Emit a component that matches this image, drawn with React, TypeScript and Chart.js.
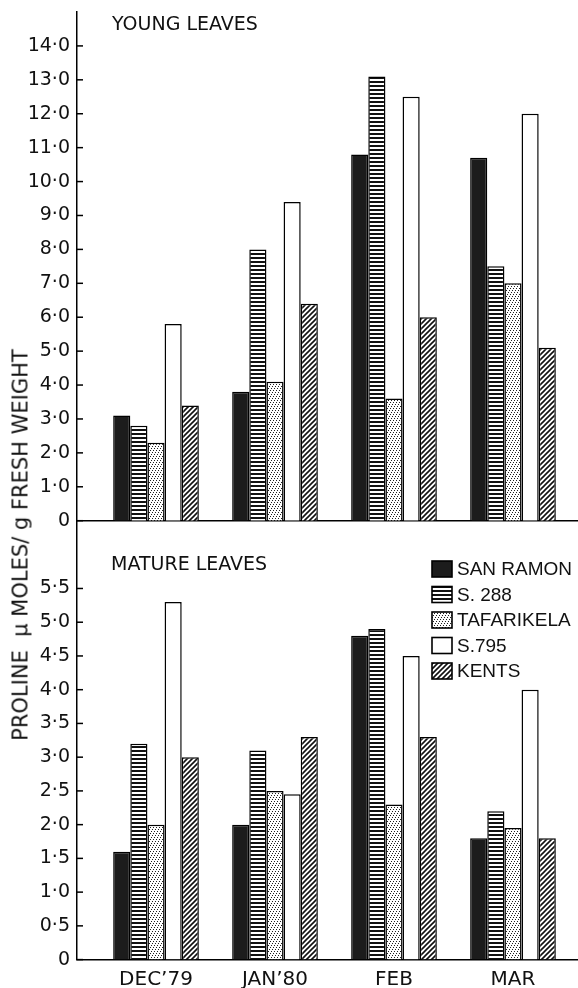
import React, { useEffect, useRef } from 'react';
import { Chart, registerables } from 'chart.js';

Chart.register(...registerables);

// ---------- data ----------
const categories = ['DEC’79', 'JAN’80', 'FEB', 'MAR'];
const seriesNames = ['SAN RAMON', 'S. 288', 'TAFARIKELA', 'S.795', 'KENTS'];

const youngSanRamon = [3.1, 3.8, 10.8, 10.7];
const youngS288 = [2.8, 8.0, 13.1, 7.5];
const youngTafarikela = [2.3, 4.1, 3.6, 7.0];
const youngS795 = [5.8, 9.4, 12.5, 12.0];
const youngKents = [3.4, 6.4, 6.0, 5.1];

const matureSanRamon = [1.6, 2.0, 4.8, 1.8];
const matureS288 = [3.2, 3.1, 4.9, 2.2];
const matureTafarikela = [2.0, 2.5, 2.3, 1.95];
const matureS795 = [5.3, 2.45, 4.5, 4.0];
const matureKents = [3.0, 3.3, 3.3, 1.8];

const youngTicks = [0, 1, 2, 3, 4, 5, 6, 7, 8, 9, 10, 11, 12, 13, 14];
const matureTicks = [0, 0.5, 1, 1.5, 2, 2.5, 3, 3.5, 4, 4.5, 5, 5.5];

const youngTitle = 'YOUNG LEAVES';
const matureTitle = 'MATURE LEAVES';
const yAxisTitle = 'PROLINE  µ MOLES/ g FRESH WEIGHT';

const FONT = '"DejaVu Sans", sans-serif';

function fmt(v: number): string {
  return v === 0 ? '0' : v.toFixed(1).replace('.', '·');
}

function makeTile(w: number, h: number, draw: (g: CanvasRenderingContext2D) => void): CanvasPattern | string {
  const c = document.createElement('canvas');
  c.width = w;
  c.height = h;
  const g = c.getContext('2d');
  if (!g) return '#fff';
  g.fillStyle = '#fff';
  g.fillRect(0, 0, w, h);
  draw(g);
  const p = g.createPattern(c, 'repeat');
  return p || '#fff';
}

function makeFills(): (CanvasPattern | string)[] {
  const solid = '#1c1c1c';
  const hlines = makeTile(4, 4, (g) => {
    g.fillStyle = '#111';
    g.fillRect(0, 1, 4, 2);
  });
  const dots = makeTile(6, 6, (g) => {
    g.fillStyle = '#222';
    const pts = [[0, 0], [2, 2], [4, 4], [3, 0], [5, 2], [1, 4]];
    pts.forEach(([x, y]) => g.fillRect(x, y, 1, 1));
  });
  const white = '#ffffff';
  const diag = makeTile(5, 5, (g) => {
    g.strokeStyle = '#111';
    g.lineWidth = 1.6;
    g.beginPath();
    g.moveTo(-1, 6); g.lineTo(6, -1);
    g.moveTo(-3.5, 3.5); g.lineTo(3.5, -3.5);
    g.moveTo(1.5, 8.5); g.lineTo(8.5, 1.5);
    g.stroke();
  });
  return [solid, hlines, dots, white, diag];
}

const inwardTicks = {
  id: 'inwardTicks',
  afterDraw(chart: any) {
    const y = chart.scales.y;
    const ctx = chart.ctx;
    const left = chart.chartArea.left;
    ctx.save();
    ctx.strokeStyle = '#000';
    ctx.lineWidth = 1.5;
    y.ticks.forEach((t: any) => {
      const py = y.getPixelForValue(t.value);
      ctx.beginPath();
      ctx.moveTo(left, py);
      ctx.lineTo(left + 6, py);
      ctx.stroke();
    });
    ctx.restore();
  },
};

function panelTitle(text: string, x: number, y: number) {
  return {
    id: 'panelTitle',
    afterDraw(chart: any) {
      const ctx = chart.ctx;
      ctx.save();
      ctx.fillStyle = '#111';
      ctx.font = `19px ${FONT}`;
      ctx.textAlign = 'left';
      ctx.textBaseline = 'middle';
      ctx.fillText(text, x, y);
      ctx.restore();
    },
  };
}

const boxLegend = {
  id: 'boxLegend',
  afterDraw(chart: any) {
    const ctx = chart.ctx;
    ctx.save();
    ctx.font = '19px "Liberation Sans", Arial, sans-serif';
    ctx.textAlign = 'left';
    ctx.textBaseline = 'middle';
    chart.data.datasets.forEach((ds: any, i: number) => {
      const cy = 48 + i * 25.5;
      ctx.fillStyle = ds.backgroundColor;
      ctx.fillRect(432, cy - 8, 20, 16);
      ctx.strokeStyle = '#000';
      ctx.lineWidth = 1.6;
      ctx.strokeRect(432, cy - 8, 20, 16);
      ctx.fillStyle = '#111';
      ctx.fillText(ds.label, 457, cy + 1);
    });
    ctx.restore();
  },
};

function buildDatasets(series: number[][], fills: (CanvasPattern | string)[]) {
  return series.map((vals, i) => ({
    label: seriesNames[i],
    data: vals.map((v, j) => ({ x: j, y: v })),
    backgroundColor: fills[i],
    borderColor: '#000',
    borderWidth: 1.5,
    categoryPercentage: 0.72,
    barPercentage: 1,
  }));
}

function buildOptions(cfg: { max: number; ticks: number[]; padTop: number; xHeight: number; showX: boolean }) {
  return {
    responsive: false,
    maintainAspectRatio: false,
    animation: false,
    devicePixelRatio: 1,
    layout: { padding: { top: cfg.padTop, left: 0, right: 1, bottom: 0 } },
    plugins: { legend: { display: false }, tooltip: { enabled: false } },
    scales: {
      x: {
        type: 'linear',
        offset: false,
        min: -0.664,
        max: 3.538,
        grid: { display: false, drawTicks: false, offset: false },
        border: { display: true, color: '#000', width: 1.5 },
        ticks: {
          display: cfg.showX,
          padding: 8,
          color: '#111',
          font: { family: FONT, size: 20 },
          callback: (v: any) => categories[v] ?? '',
        },
        afterBuildTicks: (s: any) => {
          s.ticks = categories.map((_, i) => ({ value: i }));
        },
        afterFit: (s: any) => {
          s.height = cfg.xHeight;
          s.paddingLeft = 0;
          s.paddingRight = 0;
        },
      },
      y: {
        type: 'linear',
        min: 0,
        max: cfg.max,
        grid: { display: false, drawTicks: false },
        border: { display: true, color: '#000', width: 1.5 },
        ticks: {
          padding: 7,
          color: '#111',
          font: { family: FONT, size: 19 },
          callback: (v: any) => fmt(Number(v)),
        },
        afterBuildTicks: (s: any) => {
          s.ticks = cfg.ticks.map((v) => ({ value: v }));
        },
        afterFit: (s: any) => {
          s.width = 77;
          s.paddingTop = 0;
          s.paddingBottom = 0;
        },
      },
    },
  } as any;
}

export default function App() {
  const topRef = useRef<HTMLCanvasElement>(null);
  const botRef = useRef<HTMLCanvasElement>(null);

  useEffect(() => {
    const fills = makeFills();
    const top = new Chart(topRef.current as HTMLCanvasElement, {
      type: 'bar',
      data: {
        datasets: buildDatasets([youngSanRamon, youngS288, youngTafarikela, youngS795, youngKents], fills),
      },
      options: buildOptions({ max: 15, ticks: youngTicks, padTop: 12, xHeight: 11.3, showX: false }),
      plugins: [inwardTicks, panelTitle(youngTitle, 112, 25)],
    } as any);
    const bot = new Chart(botRef.current as HTMLCanvasElement, {
      type: 'bar',
      data: {
        datasets: buildDatasets([matureSanRamon, matureS288, matureTafarikela, matureS795, matureKents], fills),
      },
      options: buildOptions({ max: 6.5, ticks: matureTicks, padTop: 0, xHeight: 28.4, showX: true }),
      plugins: [inwardTicks, panelTitle(matureTitle, 111, 44), boxLegend],
    } as any);
    return () => {
      top.destroy();
      bot.destroy();
    };
  }, []);

  return (
    <div style={{ position: 'absolute', left: 0, top: 0, width: 578, height: 988, background: '#fff', overflow: 'hidden' }}>
      <canvas ref={topRef} width={578} height={532} style={{ position: 'absolute', left: 0, top: 0, width: 578, height: 532 }} />
      <canvas ref={botRef} width={578} height={467} style={{ position: 'absolute', left: 0, top: 521, width: 578, height: 467 }} />
      <div
        style={{
          position: 'absolute',
          left: 21,
          top: 545,
          transform: 'translate(-50%, -50%) rotate(-90deg)',
          whiteSpace: 'pre',
          fontFamily: FONT,
          fontSize: 21,
          color: '#111',
          lineHeight: '21px',
        }}
      >
        {yAxisTitle}
      </div>
    </div>
  );
}
